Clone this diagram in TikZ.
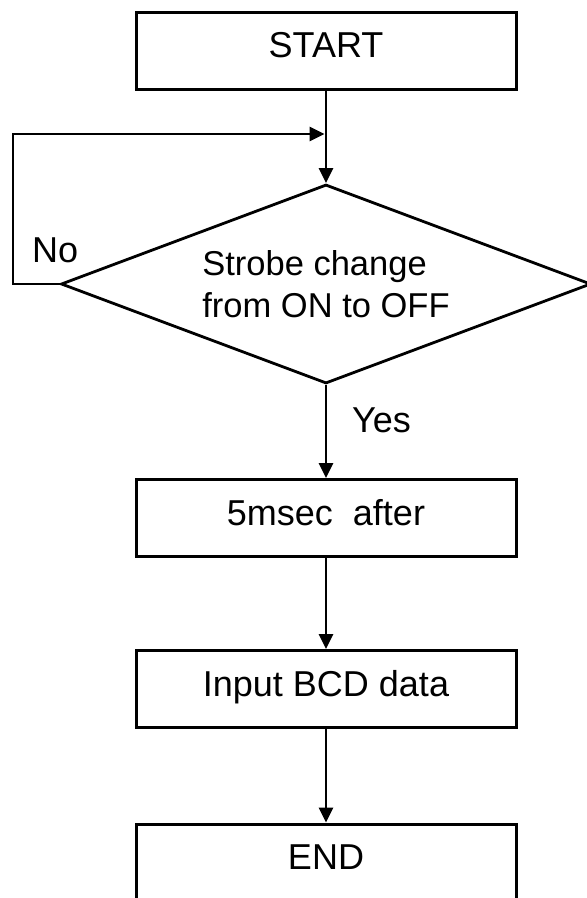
\documentclass[tikz,border=0pt]{standalone}
\usepackage{fontspec}
\setmainfont{Liberation Sans}
\usetikzlibrary{shapes.geometric,arrows.meta}
\begin{document}
\begin{tikzpicture}[x=1pt,y=-1pt,
  box/.style={draw,line width=3pt,minimum width=380pt,minimum height=77pt,inner sep=0pt,
    text height=26pt,text depth=12pt,font=\fontsize{36}{40}\selectfont},
  decision/.style={draw,diamond,shape aspect=2.66,line width=2.8pt,minimum width=530pt,minimum height=199pt,inner sep=0pt,
    align=left,font=\fontsize{34.5}{41.5}\selectfont},
  lbl/.style={anchor=base west,inner sep=0pt,font=\fontsize{36}{40}\selectfont},
  conn/.style={line width=2.8pt,-{Triangle[length=15pt,width=14pt]}}]
\useasboundingbox (0,0) rectangle (587,898);
\node[box] (start) at (326,50.5) {START};
\node[decision] (dec) at (326,284) {Strobe change\\from ON to OFF};
\node[box] (wait) at (326,518) {5msec\ \ after};
\node[box] (input) at (326,689) {Input BCD data};
\node[box] (end) at (326,862.5) {END};
\coordinate (j) at (326,134);
\coordinate (lb) at (13,284);
\coordinate (lt) at (13,134);
\node[lbl] (no) at (32,262) {No};
\node[lbl] (yes) at (352,432) {Yes};
\draw[conn] (start.south) -- (dec.north);
\draw[conn,shorten >=1.4pt] (dec.west) -- (lb) -- (lt) -- (j);
\draw[conn] (dec.south) -- (wait.north);
\draw[conn] (wait.south) -- (input.north);
\draw[conn] (input.south) -- (end.north);
\end{tikzpicture}
\end{document}
